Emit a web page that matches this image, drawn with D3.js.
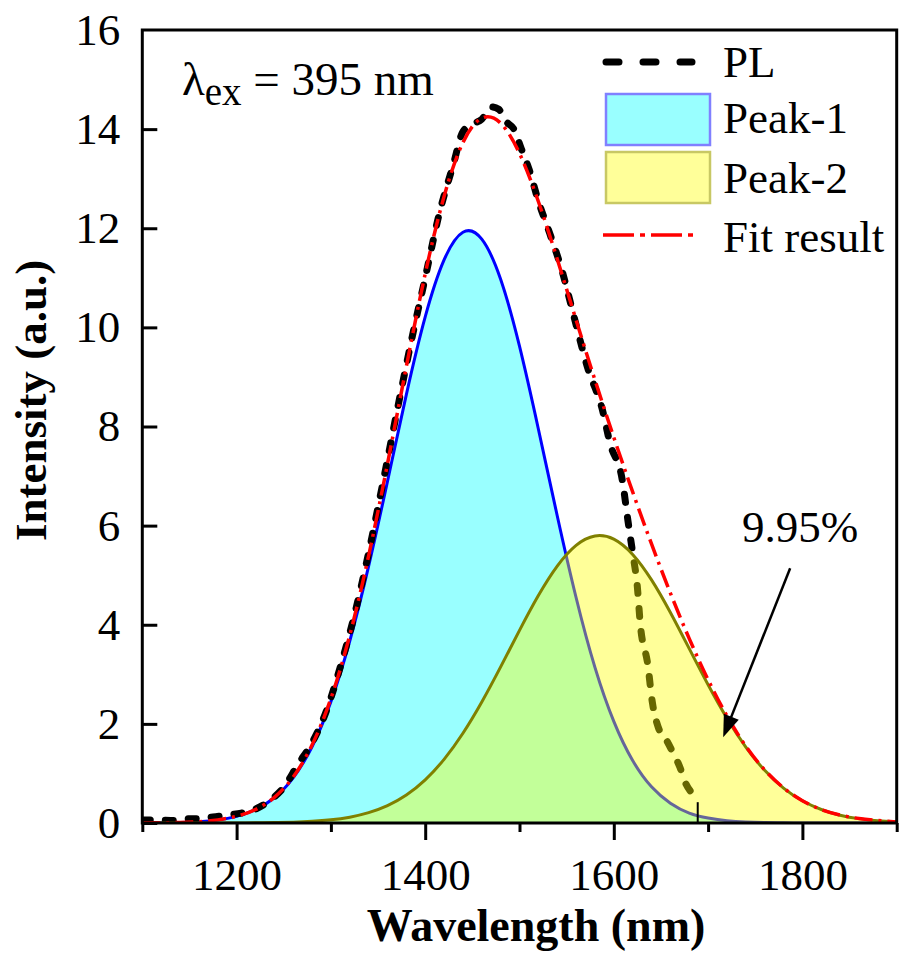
<!DOCTYPE html>
<html>
<head>
<meta charset="utf-8">
<script src="https://cdn.jsdelivr.net/npm/d3@7"></script>
<style>
  body { margin: 0; background: #fff; }
  text { font-family: "Liberation Serif", "Times New Roman", serif; fill: #000; }
</style>
</head>
<body>
<svg id="chart"></svg>
<script>
// wavelength grid for the fitted curves (nm)
var wl = [1100,1120,1140,1160,1180,1200,1220,1240,1260,1280,1300,1320,1340,1360,1380,1400,1420,1440,1460,1480,
          1500,1520,1540,1560,1580,1600,1620,1640,1660,1680,1700,1720,1740,1760,1780,1800,1820,1840,1860,1880,1900]
var peak1 = [0.002,0.004,0.011,0.027,0.062,0.133,0.268,0.509,0.912,1.539,2.449,3.670,5.183,6.894,8.643,10.21,11.36,11.92,11.78,10.97,
             9.62,7.95,6.20,4.55,3.14,2.05,1.26,0.73,0.40,0.20,0.10,0.045,0.019,0.008,0.003,0.001,0,0,0,0,0]
var peak2 = [0,0,0.0001,0.0003,0.0007,0.0016,0.0036,0.008,0.017,0.034,0.064,0.118,0.209,0.351,0.565,0.871,1.284,1.810,2.441,3.149,
             3.887,4.590,5.185,5.603,5.792,5.728,5.419,4.905,4.247,3.518,2.788,2.113,1.532,1.063,0.705,0.448,0.272,0.158,0.088,0.047,0.024]
var fitRes = [0.002,0.004,0.011,0.027,0.063,0.135,0.272,0.517,0.929,1.573,2.513,3.788,5.392,7.245,9.208,11.08,12.64,13.73,14.22,14.12,
              13.51,12.54,11.38,10.15,8.94,7.78,6.68,5.63,4.64,3.72,2.89,2.16,1.55,1.07,0.71,0.45,0.27,0.16,0.09,0.05,0.02]

// measured PL spectrum
var plWl = [1100,1115,1130,1145,1160,1175,1190,1205,1220,1235,1250,1265,1280,1295,1310,1325,1340,1355,1370,1385,
            1400,1415,1430,1440,1450,1460,1470,1478,1486,1494,1502,1510,1520,1532,1545,1558,1572,1588,1596,1609,
            1615,1620,1625,1628,1636,1641,1647,1655,1663,1670,1676,1686,1689]
var plVal = [0.06,0.06,0.05,0.08,0.09,0.12,0.16,0.20,0.28,0.45,0.72,1.18,1.62,2.25,3.15,4.20,5.45,6.85,8.3,9.7,
             11.0,12.3,13.3,13.95,14.1,14.2,14.45,14.4,14.15,14.0,13.6,13.2,12.55,11.9,11.15,10.2,9.2,8.33,7.66,6.92,
             6.1,5.45,4.76,4.03,3.2,2.42,1.94,1.7,1.41,1.13,0.81,0.52,0.42]
var plCut = 1689

var xMajor = [1200,1400,1600,1800]
var xMinor = [1100,1300,1500,1700,1900]
var yTicks = [0,2,4,6,8,10,12,14,16]
var legendItems = ["PL","Peak-1","Peak-2","Fit result"]

var w = 899, h = 955
var svg = d3.select('#chart').attr('width', w).attr('height', h)

var x = d3.scaleLinear().domain([1100,1900]).range([142.3,896.7])
var y = d3.scaleLinear().domain([0,16]).range([823,30])

var smooth = d3.curveNatural
var area = d3.area().x(function(d){ return x(d[0]) }).y0(y(0)).y1(function(d){ return y(Math.max(0,d[1])) }).curve(smooth)
var line = d3.line().x(function(d){ return x(d[0]) }).y(function(d){ return y(d[1]) }).curve(smooth)

var p1 = wl.map(function(v,i){ return [v, peak1[i]] })
var p2 = wl.map(function(v,i){ return [v, peak2[i]] })
var fr = wl.map(function(v,i){ return [v, fitRes[i]] })
var pl = plWl.map(function(v,i){ return [v, plVal[i]] })

svg.append('clipPath').attr('id','clip').append('rect')
  .attr('x', x(1100)).attr('y', y(16)).attr('width', x(1900)-x(1100)).attr('height', y(0)-y(16))
var plot = svg.append('g').attr('clip-path','url(#clip)')

// peak 1
plot.append('path').attr('d', area(p1)).attr('fill','#99ffff')
plot.append('path').attr('d', line(p1)).attr('fill','none').attr('stroke','#0000ff').attr('stroke-width',3)

// PL
plot.append('path').attr('d', d3.line().x(function(d){ return x(d[0]) }).y(function(d){ return y(d[1]) }).curve(d3.curveMonotoneX)(pl))
  .attr('fill','none').attr('stroke','#000')
  .attr('stroke-width',7).attr('stroke-linecap','round').attr('stroke-dasharray','8 15')

// peak 2 (translucent, on top)
plot.append('path').attr('d', area(p2)).attr('fill','rgba(255,255,0,0.4)')
plot.append('path').attr('d', line(p2)).attr('fill','none').attr('stroke','#808000').attr('stroke-width',3)

// fit
plot.append('path').attr('d', line(fr)).attr('fill','none').attr('stroke','#ff0000')
  .attr('stroke-width',3.5).attr('stroke-dasharray','18 6 3 6')

// PL cut-off drop line
plot.append('line').attr('x1', x(plCut)).attr('x2', x(plCut))
  .attr('y1', y(plVal[plVal.length-1])).attr('y2', y(0)).attr('stroke','#000').attr('stroke-width',2)

// axes
var gx = svg.append('g').attr('transform','translate(0,' + y(0) + ')')
  .call(d3.axisBottom(x).tickValues(xMajor).tickSize(17).tickPadding(18).tickFormat(d3.format('d')))
var gxm = svg.append('g').attr('transform','translate(0,' + y(0) + ')')
  .call(d3.axisBottom(x).tickValues(xMinor).tickSize(9).tickFormat(''))
var gy = svg.append('g').attr('transform','translate(' + x(1100) + ',0)')
  .call(d3.axisLeft(y).tickValues(yTicks).tickSize(-15).tickPadding(22).tickFormat(d3.format('d')))
;[gx,gxm,gy].forEach(function(g){
  g.select('.domain').remove()
  g.selectAll('line').attr('stroke','#000').attr('stroke-width',3)
  g.selectAll('text').style('font-size','45px').attr('font-family','"Liberation Serif", serif')
})
gy.selectAll('.tick').filter(function(d){ return d == 16 }).select('line').remove()

svg.append('rect').attr('x', x(1100)).attr('y', y(16)).attr('width', x(1900)-x(1100)).attr('height', y(0)-y(16))
  .attr('fill','none').attr('stroke','#000').attr('stroke-width',3)

// axis titles
svg.append('text').attr('x', 536).attr('y', 941).attr('text-anchor','middle')
  .style('font-size','46px').style('font-weight','bold').text('Wavelength (nm)')
svg.append('text').attr('transform','translate(46,541) rotate(-90)').attr('text-anchor','start')
  .style('font-size','45px').style('font-weight','bold').text('Intensity (a.u.)')

// excitation label
var ex = svg.append('text').attr('x', x(1142)).attr('y', y(14.68)).style('font-size','47px')
ex.append('tspan').text('λ')
ex.append('tspan').attr('dy', 10).style('font-size','39px').text('ex')
ex.append('tspan').attr('dy', -10).text(' = 395 nm')

// legend
var lg = svg.append('g')
lg.append('line').attr('x1',606).attr('x2',692).attr('y1',62).attr('y2',62).attr('stroke','#000')
  .attr('stroke-width',7).attr('stroke-linecap','round').attr('stroke-dasharray','13 24')
lg.append('rect').attr('x',606).attr('y',94).attr('width',104).attr('height',51)
  .attr('fill','#99ffff').attr('stroke','#8080ff').attr('stroke-width',2.5)
lg.append('rect').attr('x',606).attr('y',152).attr('width',104).attr('height',51)
  .attr('fill','#ffff99').attr('stroke','#c8c864').attr('stroke-width',2.5)
lg.append('line').attr('x1',603).attr('x2',698).attr('y1',235).attr('y2',235).attr('stroke','#ff0000')
  .attr('stroke-width',3.5).attr('stroke-dasharray','31 6 5 6')
var ly = [77,133,193,252]
lg.selectAll('text.leg').data(legendItems).enter().append('text').attr('class','leg')
  .attr('x',723).attr('y',function(d,i){ return ly[i] }).style('font-size','45px').text(function(d){ return d })

// annotation
svg.append('text').attr('x', x(1736)).attr('y', y(5.67)).style('font-size','45px').text('9.95%')
var ax1 = x(1787), ay1 = y(5.14), ax2 = x(1716), ay2 = y(1.73)
var ang = Math.atan2(ay2-ay1, ax2-ax1), hl = 22, hw = 8
svg.append('line').attr('x1',ax1).attr('y1',ay1)
  .attr('x2', ax2 - Math.cos(ang)*hl*0.8).attr('y2', ay2 - Math.sin(ang)*hl*0.8)
  .attr('stroke','#000').attr('stroke-width',2.5)
svg.append('path').attr('fill','#000').attr('d',
  'M' + ax2 + ',' + ay2 +
  'L' + (ax2 - Math.cos(ang)*hl - Math.sin(ang)*hw) + ',' + (ay2 - Math.sin(ang)*hl + Math.cos(ang)*hw) +
  'L' + (ax2 - Math.cos(ang)*hl + Math.sin(ang)*hw) + ',' + (ay2 - Math.sin(ang)*hl - Math.cos(ang)*hw) + 'Z')
</script>
</body>
</html>
